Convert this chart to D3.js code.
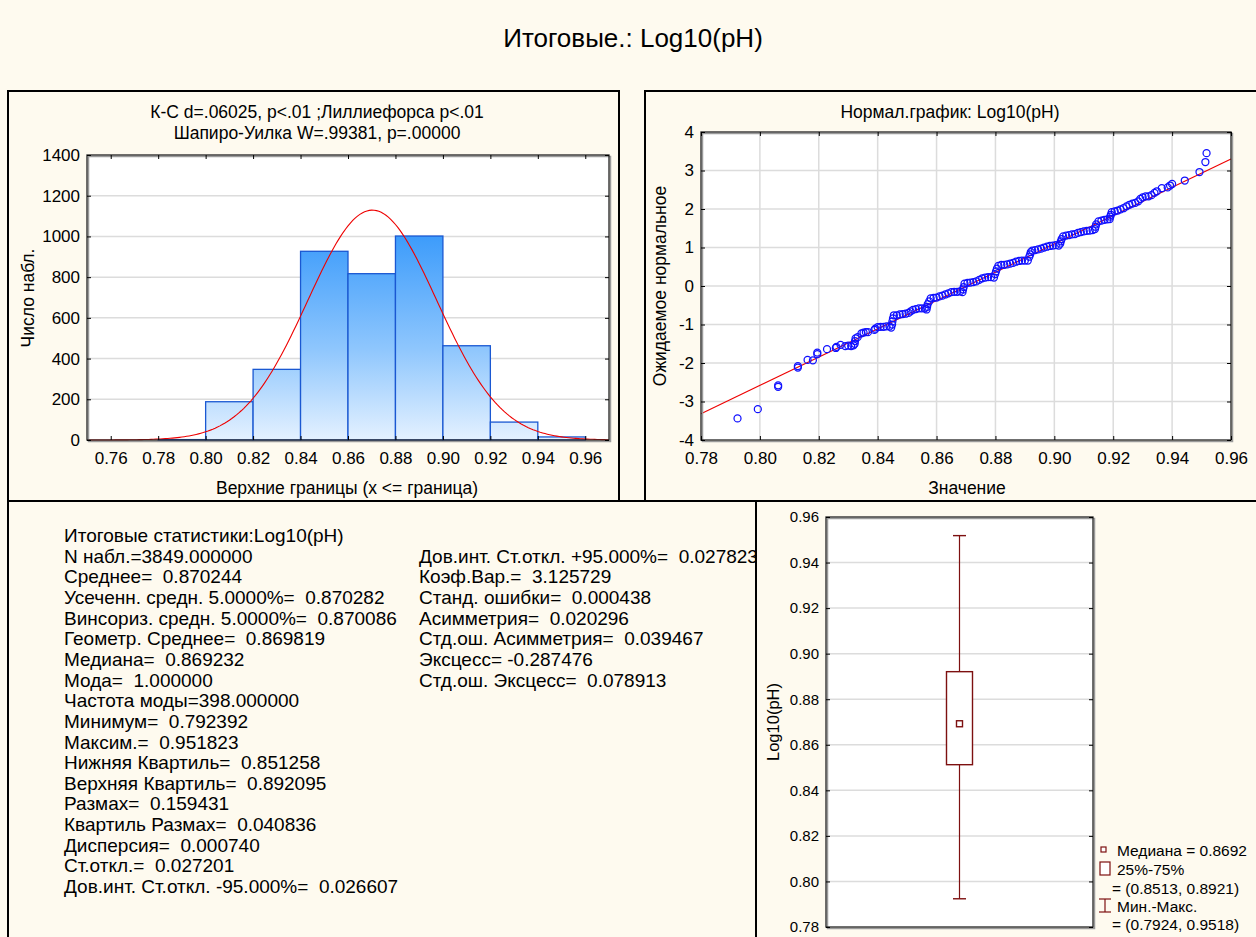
<!DOCTYPE html>
<html>
<head>
<meta charset="utf-8">
<style>
    body { margin: 0; background: #fefaef; }
    text { font-family: "Liberation Sans", Arial, sans-serif; fill: #000; }
    .tick text { font-size: 17px; }
    .box .tick text { font-size: 15px; }
    .grid line { stroke: #dcdcdc; }
</style>
<script src="https://d3js.org/d3.v7.min.js"></script>
</head>
<body>
<svg width="1256" height="937"></svg>
<script>
// ---- data ----
var binEdges = [0.76, 0.78, 0.80, 0.82, 0.84, 0.86, 0.88, 0.90, 0.92, 0.94, 0.96];
var binCounts = [0, 2, 188, 347, 927, 817, 1002, 463, 88, 15];
var histYTicks = [0, 200, 400, 600, 800, 1000, 1200, 1400];
var histXTicks = [0.76, 0.78, 0.80, 0.82, 0.84, 0.86, 0.88, 0.90, 0.92, 0.94, 0.96];

var nObs = 3849, mean = 0.870244, sd = 0.027201;

// normal probability plot: [value, expected normal]
var qqPoints = [
  [0.7924,-3.44],[0.7993,-3.20],[0.8062,-2.62],[0.8062,-2.58],
  [0.8129,-2.12],[0.8129,-2.08],[0.8162,-1.92],[0.8180,-1.93],
  [0.8195,-1.77],[0.8195,-1.73],[0.8228,-1.64],[0.8258,-1.61],[0.8260,-1.58],
  [0.8274,-1.53],[0.8290,-1.56],[0.8300,-1.55],[0.8310,-1.56],[0.8318,-1.54],[0.8322,-1.50],
  [0.8323,-1.43],[0.8325,-1.36],[0.8332,-1.33],[0.8345,-1.23],[0.8352,-1.21],[0.8360,-1.20],[0.8367,-1.20],
  [0.8389,-1.14],[0.8392,-1.11],[0.8400,-1.07],[0.8410,-1.06],[0.8420,-1.06],[0.8430,-1.05],
  [0.8440,-1.05],[0.8446,-1.08],[0.8449,-1.00],[0.8450,-0.92],[0.8452,-0.84],
  [0.8455,-0.76],[0.8465,-0.76],[0.8475,-0.74],[0.8485,-0.73],[0.8495,-0.72],[0.8505,-0.70],
  [0.8512,-0.66],[0.8520,-0.62],[0.8530,-0.60],[0.8540,-0.58],[0.8550,-0.58],[0.8560,-0.58],
  [0.8566,-0.61],[0.8568,-0.54],[0.8570,-0.47],[0.8575,-0.40],[0.8580,-0.32],[0.8590,-0.31],[0.8600,-0.30],
  [0.8610,-0.27],[0.8620,-0.25],[0.8630,-0.22],[0.8640,-0.19],[0.8650,-0.16],[0.8660,-0.15],
  [0.8670,-0.15],[0.8680,-0.14],[0.8688,-0.16],[0.8690,-0.09],[0.8692,-0.03],[0.8695,0.06],[0.8705,0.08],
  [0.8715,0.09],[0.8725,0.10],[0.8735,0.12],[0.8745,0.16],[0.8755,0.20],[0.8765,0.22],
  [0.8775,0.23],[0.8785,0.23],[0.8795,0.22],[0.8799,0.31],[0.8802,0.38],[0.8805,0.45],[0.8810,0.52],
  [0.8820,0.55],[0.8830,0.55],[0.8840,0.56],[0.8850,0.58],[0.8860,0.60],[0.8870,0.63],
  [0.8880,0.65],[0.8890,0.66],[0.8900,0.66],[0.8910,0.66],[0.8915,0.76],[0.8918,0.82],[0.8920,0.88],
  [0.8925,0.92],[0.8935,0.93],[0.8945,0.95],[0.8955,0.97],[0.8965,1.00],[0.8975,1.02],
  [0.8985,1.04],[0.8995,1.05],[0.9005,1.06],[0.9015,1.05],[0.9020,1.10],[0.9022,1.16],[0.9025,1.22],
  [0.9030,1.29],[0.9040,1.31],[0.9050,1.32],[0.9060,1.34],[0.9070,1.35],[0.9080,1.38],
  [0.9090,1.40],[0.9100,1.42],[0.9110,1.43],[0.9120,1.44],[0.9130,1.45],[0.9138,1.48],
  [0.9140,1.54],[0.9142,1.60],[0.9150,1.68],[0.9160,1.70],[0.9170,1.72],[0.9180,1.73],[0.9188,1.74],
  [0.9190,1.80],[0.9192,1.85],[0.9195,1.92],[0.9205,1.94],[0.9215,1.96],[0.9225,1.99],[0.9235,2.02],
  [0.9245,2.07],[0.9255,2.11],[0.9265,2.14],[0.9275,2.16],[0.9285,2.20],[0.9292,2.26],
  [0.9300,2.30],[0.9310,2.33],[0.9320,2.33],[0.9330,2.36],[0.9340,2.42],[0.9348,2.46],
  [0.9365,2.54],[0.9385,2.56],[0.9393,2.61],[0.9400,2.65],[0.9443,2.74],[0.9493,2.96],
  [0.9513,3.22],[0.9517,3.45]
];
var qqXTicks = [0.78, 0.80, 0.82, 0.84, 0.86, 0.88, 0.90, 0.92, 0.94, 0.96];
var qqYTicks = [-4, -3, -2, -1, 0, 1, 2, 3, 4];

var boxStats = { min: 0.792392, q1: 0.851258, median: 0.869232, q3: 0.892095, max: 0.951823 };
var boxYTicks = [0.78, 0.80, 0.82, 0.84, 0.86, 0.88, 0.90, 0.92, 0.94, 0.96];

var statsLeft = [
  "Итоговые статистики:Log10(pH)",
  "N набл.=3849.000000",
  "Среднее=  0.870244",
  "Усеченн. средн. 5.0000%=  0.870282",
  "Винсориз. средн. 5.0000%=  0.870086",
  "Геометр. Среднее=  0.869819",
  "Медиана=  0.869232",
  "Мода=  1.000000",
  "Частота моды=398.000000",
  "Минимум=  0.792392",
  "Максим.=  0.951823",
  "Нижняя Квартиль=  0.851258",
  "Верхняя Квартиль=  0.892095",
  "Размах=  0.159431",
  "Квартиль Размах=  0.040836",
  "Дисперсия=  0.000740",
  "Ст.откл.=  0.027201",
  "Дов.инт. Ст.откл. -95.000%=  0.026607"
];
var statsRight = [
  "Дов.инт. Ст.откл. +95.000%=  0.027823",
  "Коэф.Вар.=  3.125729",
  "Станд. ошибки=  0.000438",
  "Асимметрия=  0.020296",
  "Стд.ош. Асимметрия=  0.039467",
  "Эксцесс= -0.287476",
  "Стд.ош. Эксцесс=  0.078913"
];

var svg = d3.select("svg");
var fmt2 = d3.format(".2f");
var fmtInt = function(d) { return d < 0 ? "-" + Math.abs(d) : String(d); };
var keepSpaces = function(d) { return d.replace(/  /g, " \u00a0"); };

svg.append("rect").attr("width", 1256).attr("height", 937).attr("fill", "#fefaef");

svg.append("text").attr("x", 633).attr("y", 47)
   .attr("text-anchor", "middle").style("font-size", "26px")
   .text("Итоговые.: Log10(pH)");

// panel borders
[[8, 91, 611, 410], [645, 91, 620, 410], [8, 501, 748, 445], [756, 501, 510, 445]].forEach(function(p) {
    svg.append("rect").attr("x", p[0]).attr("y", p[1]).attr("width", p[2]).attr("height", p[3])
       .attr("fill", "none").attr("stroke", "#000").attr("stroke-width", 2);
});

var defs = svg.append("defs");

// framed plot area (dark line with a grey shadow)
function frame(g, w, h) {
    g.append("rect").attr("x", 1.5).attr("y", 1.5).attr("width", w).attr("height", h)
     .attr("fill", "none").attr("stroke", "#9a9a9a").attr("stroke-width", 1.5);
    g.append("rect").attr("width", w).attr("height", h)
     .attr("fill", "none").attr("stroke", "#222").attr("stroke-width", 1.3);
}
function noDomain(a) { a.select(".domain").remove(); }

// ---------- histogram ----------
var h1 = { x: 87, y: 155, w: 522, h: 285 };
var g1 = svg.append("g").attr("transform", "translate(" + h1.x + "," + h1.y + ")");
var hx = d3.scaleLinear().domain([0.75, 0.97]).range([0, h1.w]);
var hy = d3.scaleLinear().domain([0, 1400]).range([h1.h, 0]);

g1.append("rect").attr("width", h1.w).attr("height", h1.h).attr("fill", "#fff");
g1.append("g").attr("class", "grid").selectAll("line").data(histYTicks.slice(1, -1)).enter()
  .append("line").attr("x1", 0).attr("x2", h1.w).attr("y1", hy).attr("y2", hy).attr("stroke-width", 1.5);

var grad = defs.append("linearGradient").attr("id", "barGrad")
    .attr("gradientUnits", "userSpaceOnUse")
    .attr("x1", 0).attr("x2", 0).attr("y1", hy(1000)).attr("y2", hy(0));
grad.append("stop").attr("offset", "0%").attr("stop-color", "#3d9cfb");
grad.append("stop").attr("offset", "55%").attr("stop-color", "#8ec6fd");
grad.append("stop").attr("offset", "100%").attr("stop-color", "#e4f1ff");

var bins = binCounts.map(function(c, i) { return { x0: binEdges[i], x1: binEdges[i + 1], n: c }; });
g1.selectAll(".bar").data(bins.filter(function(d) { return d.n > 0; })).enter()
  .append("rect").attr("class", "bar")
  .attr("x", function(d) { return hx(d.x0); })
  .attr("width", function(d) { return hx(d.x1) - hx(d.x0); })
  .attr("y", function(d) { return hy(d.n); })
  .attr("height", function(d) { return hy(0) - hy(d.n); })
  .attr("fill", "url(#barGrad)")
  .attr("stroke", "#1a58d2").attr("stroke-width", 1.3);

// expected normal curve
var binW = 0.02;
var curveX = d3.range(0.75, 0.9701, 0.001);
var curve = d3.line()
    .x(function(v) { return hx(v); })
    .y(function(v) {
        var z = (v - mean) / sd;
        return hy(nObs * binW * Math.exp(-0.5 * z * z) / (sd * Math.sqrt(2 * Math.PI)));
    });
g1.append("path").datum(curveX).attr("d", curve)
  .attr("fill", "none").attr("stroke", "#ee0000").attr("stroke-width", 1.1);

frame(g1, h1.w, h1.h);
g1.append("g").attr("transform", "translate(0," + h1.h + ")")
  .call(d3.axisBottom(hx).tickValues(histXTicks).tickFormat(fmt2).tickSizeInner(-4).tickSizeOuter(0).tickPadding(12))
  .call(noDomain);
g1.append("g")
  .call(d3.axisLeft(hy).tickValues(histYTicks).tickFormat(fmtInt).tickSizeInner(-4).tickSizeOuter(0).tickPadding(7))
  .call(noDomain);
g1.append("g").call(d3.axisTop(hx).tickValues(histXTicks).tickFormat("").tickSizeInner(-4).tickSizeOuter(0))
  .call(noDomain);
g1.append("g").attr("transform", "translate(" + h1.w + ",0)")
  .call(d3.axisRight(hy).tickValues(histYTicks).tickFormat("").tickSizeInner(-4).tickSizeOuter(0))
  .call(noDomain);

svg.append("text").attr("x", 317).attr("y", 118).attr("text-anchor", "middle").style("font-size", "17.5px")
   .text("К-С d=.06025, p<.01 ;Лиллиефорса p<.01");
svg.append("text").attr("x", 317).attr("y", 139).attr("text-anchor", "middle").style("font-size", "17.5px")
   .text("Шапиро-Уилка W=.99381, p=.00000");
svg.append("text").attr("x", 347).attr("y", 494).attr("text-anchor", "middle").style("font-size", "17.5px")
   .text("Верхние границы (x <= граница)");
svg.append("text").attr("transform", "translate(34,298) rotate(-90)").attr("text-anchor", "middle")
   .style("font-size", "17.5px").text("Число набл.");

// ---------- normal probability plot ----------
var h2 = { x: 701, y: 132, w: 530, h: 308 };
var g2 = svg.append("g").attr("transform", "translate(" + h2.x + "," + h2.y + ")");
var qx = d3.scaleLinear().domain([0.78, 0.96]).range([0, h2.w]);
var qy = d3.scaleLinear().domain([-4, 4]).range([h2.h, 0]);

g2.append("rect").attr("width", h2.w).attr("height", h2.h).attr("fill", "#fff");
var grid2 = g2.append("g").attr("class", "grid");
grid2.selectAll(".gy").data(qqYTicks.slice(1, -1)).enter().append("line")
  .attr("x1", 0).attr("x2", h2.w).attr("y1", qy).attr("y2", qy).attr("stroke-width", 1.5);
grid2.selectAll(".gx").data(qqXTicks.slice(1, -1)).enter().append("line")
  .attr("y1", 0).attr("y2", h2.h).attr("x1", qx).attr("x2", qx).attr("stroke-width", 1.5);

g2.append("line")
  .attr("x1", qx(0.78)).attr("y1", qy((0.78 - mean) / sd))
  .attr("x2", qx(0.96)).attr("y2", qy((0.96 - mean) / sd))
  .attr("stroke", "#ee0000").attr("stroke-width", 1.1);

g2.selectAll(".pt").data(qqPoints).enter().append("circle")
  .attr("cx", function(d) { return qx(d[0]); })
  .attr("cy", function(d) { return qy(d[1]); })
  .attr("r", 3.5).attr("fill", "none").attr("stroke", "#1010ff").attr("stroke-width", 1.25);

frame(g2, h2.w, h2.h);
g2.append("g").attr("transform", "translate(0," + h2.h + ")")
  .call(d3.axisBottom(qx).tickValues(qqXTicks).tickFormat(fmt2).tickSizeInner(-4).tickSizeOuter(0).tickPadding(12))
  .call(noDomain);
g2.append("g")
  .call(d3.axisLeft(qy).tickValues(qqYTicks).tickFormat(fmtInt).tickSizeInner(-4).tickSizeOuter(0).tickPadding(7))
  .call(noDomain);
g2.append("g").call(d3.axisTop(qx).tickValues(qqXTicks).tickFormat("").tickSizeInner(-4).tickSizeOuter(0))
  .call(noDomain);
g2.append("g").attr("transform", "translate(" + h2.w + ",0)")
  .call(d3.axisRight(qy).tickValues(qqYTicks).tickFormat("").tickSizeInner(-4).tickSizeOuter(0))
  .call(noDomain);

svg.append("text").attr("x", 950).attr("y", 118).attr("text-anchor", "middle").style("font-size", "17.5px")
   .text("Нормал.график: Log10(pH)");
svg.append("text").attr("x", 967).attr("y", 494).attr("text-anchor", "middle").style("font-size", "17.5px")
   .text("Значение");
svg.append("text").attr("transform", "translate(666,286) rotate(-90)").attr("text-anchor", "middle")
   .style("font-size", "17.5px").text("Ожидаемое нормальное");

// ---------- statistics text ----------
svg.append("clipPath").attr("id", "txtClip").append("rect")
   .attr("x", 9).attr("y", 502).attr("width", 746).attr("height", 434);
var tg = svg.append("g").attr("clip-path", "url(#txtClip)").style("font-size", "19px");
tg.selectAll(".sl").data(statsLeft).enter().append("text")
  .attr("x", 64).attr("y", function(d, i) { return 542 + i * 20.65; }).text(keepSpaces);
tg.selectAll(".sr").data(statsRight).enter().append("text")
  .attr("x", 419).attr("y", function(d, i) { return 542 + (i + 1) * 20.65; }).text(keepSpaces);

// ---------- box plot ----------
var h4 = { x: 826, y: 517, w: 267, h: 410 };
var g4 = svg.append("g").attr("class", "box").attr("transform", "translate(" + h4.x + "," + h4.y + ")");
var by = d3.scaleLinear().domain([0.78, 0.96]).range([h4.h, 0]);
var cx = h4.w / 2, boxW = 26, capW = 13, col = "#7d1010";

g4.append("rect").attr("width", h4.w).attr("height", h4.h).attr("fill", "#fff");
g4.append("g").attr("class", "grid").selectAll("line").data(boxYTicks.slice(1, -1)).enter()
  .append("line").attr("x1", 0).attr("x2", h4.w).attr("y1", by).attr("y2", by).attr("stroke-width", 1.5);

g4.append("line").attr("x1", cx).attr("x2", cx).attr("y1", by(boxStats.min)).attr("y2", by(boxStats.max))
  .attr("stroke", col).attr("stroke-width", 1.2);
[boxStats.min, boxStats.max].forEach(function(v) {
    g4.append("line").attr("x1", cx - capW / 2).attr("x2", cx + capW / 2).attr("y1", by(v)).attr("y2", by(v))
      .attr("stroke", col).attr("stroke-width", 1.4);
});
g4.append("rect").attr("x", cx - boxW / 2).attr("width", boxW)
  .attr("y", by(boxStats.q3)).attr("height", by(boxStats.q1) - by(boxStats.q3))
  .attr("fill", "#fff").attr("stroke", col).attr("stroke-width", 1.4);
g4.append("rect").attr("x", cx - 3).attr("y", by(boxStats.median) - 3).attr("width", 6).attr("height", 6)
  .attr("fill", "#fff").attr("stroke", col).attr("stroke-width", 1.4);

frame(g4, h4.w, h4.h);
g4.append("g")
  .call(d3.axisLeft(by).tickValues(boxYTicks).tickFormat(fmt2).tickSizeInner(-4).tickSizeOuter(0).tickPadding(7))
  .call(noDomain);
g4.append("g").attr("transform", "translate(" + h4.w + ",0)")
  .call(d3.axisRight(by).tickValues(boxYTicks).tickFormat("").tickSizeInner(-4).tickSizeOuter(0))
  .call(noDomain);

svg.append("text").attr("transform", "translate(779,722) rotate(-90)").attr("text-anchor", "middle")
   .style("font-size", "16.5px").text("Log10(pH)");

// legend
var lg = svg.append("g").style("font-size", "15.5px");
lg.append("rect").attr("x", 1101).attr("y", 847).attr("width", 5).attr("height", 5)
  .attr("fill", "#fff").attr("stroke", col).attr("stroke-width", 1.2);
lg.append("text").attr("x", 1117).attr("y", 856).text("Медиана = " + boxStats.median.toFixed(4));
lg.append("rect").attr("x", 1100).attr("y", 862).attr("width", 10).attr("height", 13)
  .attr("fill", "#fff").attr("stroke", col).attr("stroke-width", 1.2);
lg.append("text").attr("x", 1117).attr("y", 875).text("25%-75%");
lg.append("text").attr("x", 1112).attr("y", 894)
  .text("= (" + boxStats.q1.toFixed(4) + ", " + boxStats.q3.toFixed(4) + ")");
lg.append("line").attr("x1", 1105).attr("x2", 1105).attr("y1", 899).attr("y2", 912).attr("stroke", col).attr("stroke-width", 1.2);
lg.append("line").attr("x1", 1099).attr("x2", 1111).attr("y1", 899).attr("y2", 899).attr("stroke", col).attr("stroke-width", 1.2);
lg.append("line").attr("x1", 1099).attr("x2", 1111).attr("y1", 912).attr("y2", 912).attr("stroke", col).attr("stroke-width", 1.2);
lg.append("text").attr("x", 1117).attr("y", 912).text("Мин.-Макс.");
lg.append("text").attr("x", 1112).attr("y", 930)
  .text("= (" + boxStats.min.toFixed(4) + ", " + boxStats.max.toFixed(4) + ")");
</script>
</body>
</html>
